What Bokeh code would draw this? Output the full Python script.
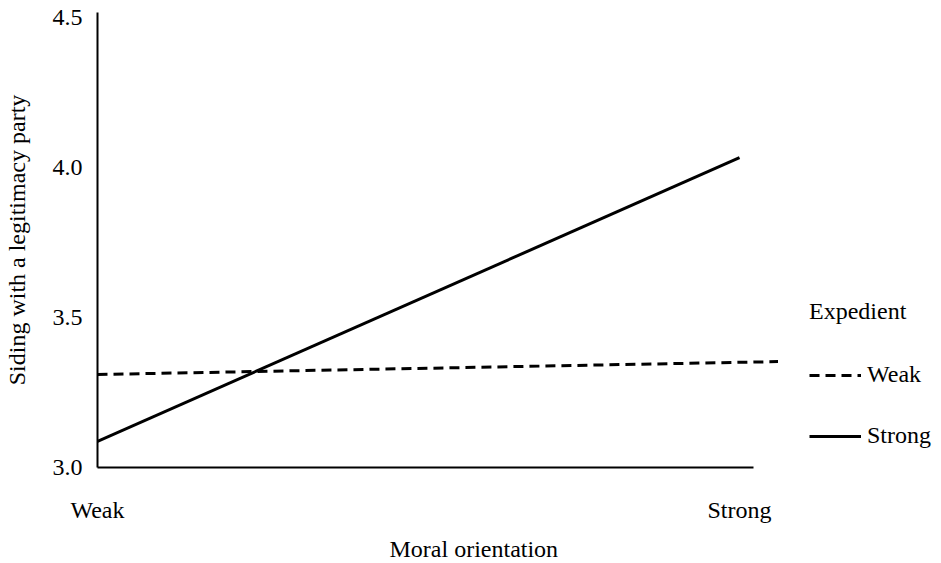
from bokeh.plotting import figure
from bokeh.models import FixedTicker, Legend, LegendItem, Range1d, Title
from bokeh.embed import file_html
from bokeh.resources import INLINE

# ---- data ----
x_ticks = [0, 1]
x_tick_labels = ["Weak", "Strong"]
y_ticks = [3.0, 3.5, 4.0, 4.5]
y_tick_labels = ["3.0", "3.5", "4.0", "4.5"]
x_label = "Moral orientation"
y_label = "Siding with a legitimacy party"
legend_title = "Expedient"

moral_strong_exp = [0, 1]
siding_strong_exp = [3.087, 4.033]

moral_weak_exp = [0, 1.06]
siding_weak_exp = [3.31, 3.353]

FONT = "Liberation Serif"
FS = "24px"

p = figure(
    output_backend="svg",
    toolbar_location=None,
    frame_width=840,
    frame_height=455,
    min_border_left=88,
    min_border_right=2,
    min_border_top=12,
    min_border_bottom=86,
    x_range=Range1d(0, 1.3084),
    y_range=Range1d(3.0, 4.5167),
    background_fill_color="white",
    border_fill_color="white",
)
p.outline_line_color = None
p.grid.visible = False

r_weak = p.line(moral_weak_exp, siding_weak_exp, line_color="black",
                line_width=3, line_dash="10 6")
r_strong = p.line(moral_strong_exp, siding_strong_exp, line_color="black",
                  line_width=3)

# axes
xa = p.xaxis[0]
xa.ticker = FixedTicker(ticks=x_ticks)
xa.major_label_overrides = {t: l for t, l in zip(x_ticks, x_tick_labels)}
xa.bounds = (0, 1.022)
ya = p.yaxis[0]
ya.ticker = FixedTicker(ticks=y_ticks)
ya.major_label_overrides = {t: l for t, l in zip(y_ticks, y_tick_labels)}
ya.axis_label = y_label

for ax in (xa, ya):
    ax.axis_line_color = "black"
    ax.axis_line_width = 2
    ax.major_tick_line_color = None
    ax.minor_tick_line_color = None
    ax.major_label_text_font = FONT
    ax.major_label_text_font_size = FS
    ax.major_label_text_color = "black"
    ax.axis_label_text_font = FONT
    ax.axis_label_text_font_size = FS
    ax.axis_label_text_font_style = "normal"
    ax.axis_label_text_color = "black"

xa.major_label_standoff = 23
ya.major_label_standoff = 9
ya.axis_label_standoff = 20

# x-axis label, placed under the axis (offset to sit under the plotted span)
xt = Title(text=x_label, align="left", offset=292, standoff=16,
           text_font=FONT, text_font_size=FS, text_font_style="normal",
           text_color="black")
p.add_layout(xt, "below")

legend = Legend(
    items=[LegendItem(label="Weak", renderers=[r_weak]),
           LegendItem(label="Strong", renderers=[r_strong])],
    title=legend_title,
    location=(712, 18),
    orientation="vertical",
    border_line_color=None,
    background_fill_alpha=0,
    padding=0,
    margin=0,
    glyph_width=52,
    glyph_height=20,
    label_height=20,
    label_standoff=6,
    spacing=34,
    title_standoff=36,
    label_text_font=FONT,
    label_text_font_size=FS,
    label_text_color="black",
    title_text_font=FONT,
    title_text_font_size=FS,
    title_text_font_style="normal",
    title_text_color="black",
)
p.add_layout(legend)

open("out.html", "w").write(file_html(p, INLINE))
